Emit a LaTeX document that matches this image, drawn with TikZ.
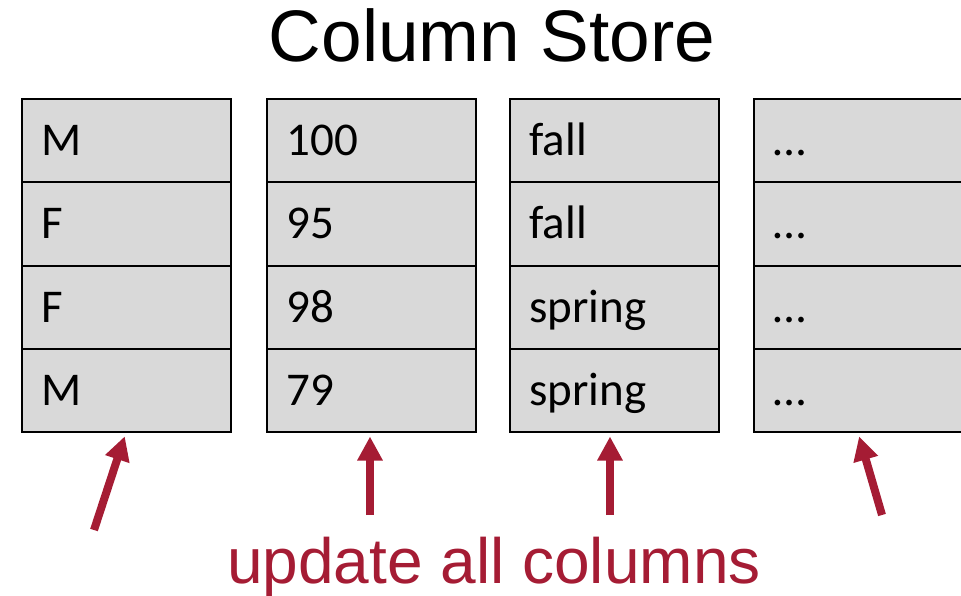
\documentclass[tikz,border=0pt]{standalone}
\usepackage{fontspec}
\setmainfont{Carlito}
\newfontfamily\headfont{Liberation Sans}
\usetikzlibrary{arrows.meta}
\definecolor{crimson}{RGB}{165,28,52}
\definecolor{cellgray}{RGB}{217,217,217}
\tikzset{
  cell/.style={draw=black, line width=2pt, fill=cellgray,
    minimum width=209pt, minimum height=83pt,
    inner xsep=20pt, inner ysep=0pt, text width=169pt, align=left,
    font=\fontsize{47}{47}\selectfont, text height=30pt, text depth=0pt,
    anchor=north west, outer sep=1pt},
  pointer/.style={crimson, line width=8pt,
    -{Triangle[length=24pt,width=24pt]}, shorten >=4pt},
  heading/.style={font=\headfont\fontsize{73}{73}\selectfont, anchor=base, inner sep=0pt},
  caption/.style={font=\headfont\fontsize{64}{64}\selectfont, text=crimson, anchor=base, inner sep=0pt},
}
\begin{document}
\begin{tikzpicture}[x=1pt, y=-1pt]
  \useasboundingbox (0,0) rectangle (961,596);
  \clip (0,0) rectangle (961,596);

  \node[heading] (title) at (492,62) {Column Store};

  % four columns, one value per row
  \foreach \c/\x/\a/\b/\e/\d in {1/20.5/M/F/F/M, 2/265.5/100/95/98/79,
      3/508.5/fall/fall/spring/spring, 4/752.5/…/…/…/…} {
    \node[cell] (c\c r1) at (\x,98.5)  {\a};
    \node[cell] (c\c r2) at (\x,181.5) {\b};
    \node[cell] (c\c r3) at (\x,264.5) {\e};
    \node[cell] (c\c r4) at (\x,347.5) {\d};
  }

  \node[caption] (note) at (494,583) {update all columns};

  \coordinate (t1) at (94,530);
  \coordinate (t2) at (370,515);
  \coordinate (t3) at (610,515);
  \coordinate (t4) at (882,515);
  \draw[pointer] (t1) -- (c1r4.south);
  \draw[pointer] (t2) -- (t2 |- c2r4.south);
  \draw[pointer] (t3) -- (t3 |- c3r4.south);
  \draw[pointer] (t4) -- (c4r4.south);
\end{tikzpicture}
\end{document}
